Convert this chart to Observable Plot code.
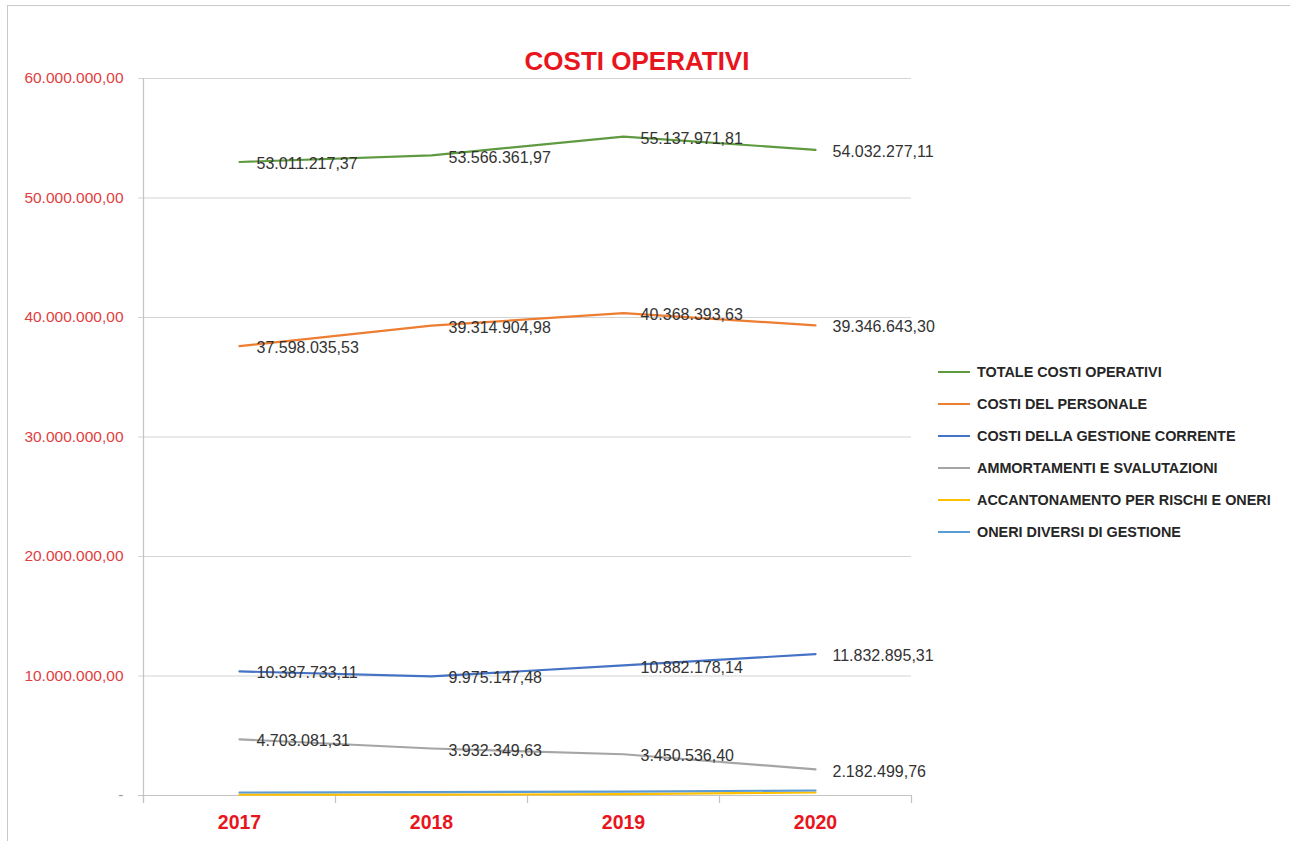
<!DOCTYPE html>
<html>
<head>
<meta charset="utf-8">
<script src="https://cdn.jsdelivr.net/npm/d3@7"></script>
<script src="https://cdn.jsdelivr.net/npm/@observablehq/plot@0.6"></script>
<style>
  html, body { margin: 0; padding: 0; background: #ffffff; }
  #wrap { position: relative; width: 1290px; height: 841px; overflow: hidden; font-family: "Liberation Sans", Arial, sans-serif; }
  #frame { position: absolute; left: 7px; top: 5px; width: 1300px; height: 850px; border: 1px solid #c9c9c9; box-sizing: border-box; }
  #title { position: absolute; left: 0; width: 1274px; top: 46px; text-align: center; font-size: 26px; font-weight: bold; color: #e8161c; line-height: 30px; }
  #chart { position: absolute; left: 0; top: 0; }
  #legend { position: absolute; left: 938px; top: 356px; }
  .li { position: relative; height: 32px; display: flex; align-items: center; }
  .sw { width: 32px; height: 2px; margin-right: 7px; }
  .lt { font-size: 14.4px; font-weight: bold; color: #262626; white-space: nowrap; line-height: 24px; }
</style>
</head>
<body>
<div id="wrap">
  <div id="frame"></div>
  <div id="chart"></div>
  <div id="title">COSTI OPERATIVI</div>
  <div id="legend"></div>
</div>
<script>
// ---- data ----
const years = [2017, 2018, 2019, 2020];
const seriesNames = [
  "TOTALE COSTI OPERATIVI",
  "COSTI DEL PERSONALE",
  "COSTI DELLA GESTIONE CORRENTE",
  "AMMORTAMENTI E SVALUTAZIONI",
  "ACCANTONAMENTO PER RISCHI E ONERI",
  "ONERI DIVERSI DI GESTIONE"
];
const seriesColors = ["#5e9a3f", "#ed7d31", "#4472c4", "#a5a5a5", "#ffc000", "#5b9bd5"];
const totaleCosti = [53011217.37, 53566361.97, 55137971.81, 54032277.11];
const costiPersonale = [37598035.53, 39314904.98, 40368393.63, 39346643.30];
const costiGestione = [10387733.11, 9975147.48, 10882178.14, 11832895.31];
const ammortamenti = [4703081.31, 3932349.63, 3450536.40, 2182499.76];
const accantonamento = [70000, 65000, 110000, 250000];
const oneriDiversi = [250000, 280000, 330000, 420000];
const labelledSeries = [0, 1, 2, 3];
const yTicks = [0, 10000000, 20000000, 30000000, 40000000, 50000000, 60000000];
const xDomain = [2016.5, 2020.5];
const xBounds = [2016.5, 2017.5, 2018.5, 2019.5, 2020.5];

const allValues = [totaleCosti, costiPersonale, costiGestione, ammortamenti, accantonamento, oneriDiversi];
const rows = [];
allValues.forEach((vals, si) => {
  vals.forEach((v, i) => rows.push({series: seriesNames[si], si, year: years[i], value: v}));
});
const labelRows = rows.filter(r => labelledSeries.includes(r.si));

const it = d3.formatLocale({decimal: ",", thousands: ".", grouping: [3], currency: ["€", ""]});
const fmt = it.format(",.2f");
const yFmt = d => d === 0 ? "-" : fmt(d);

const chart = Plot.plot({
  width: 1290,
  height: 841,
  marginLeft: 143,
  marginRight: 379,
  marginTop: 78,
  marginBottom: 46,
  style: {background: "transparent", fontFamily: "'Liberation Sans', Arial, sans-serif", overflow: "visible"},
  x: {type: "linear", domain: xDomain, axis: null},
  y: {type: "linear", domain: [0, 60000000], axis: null},
  color: {domain: seriesNames, range: seriesColors},
  marks: [
    Plot.ruleY(yTicks, {y: d => d, x1: xDomain[0], x2: xDomain[1], insetLeft: -5, stroke: "#d4d4d4", strokeWidth: 1.2}),
    Plot.ruleX([xDomain[0]], {x: d => d, y1: 60000000, y2: 0, insetTop: 0, insetBottom: -6, stroke: "#c4c4c4", strokeWidth: 1.2}),
    Plot.ruleY([0], {y: d => d, x1: xDomain[0], x2: xDomain[1], insetLeft: -5, stroke: "#c4c4c4", strokeWidth: 1.2}),
    Plot.ruleX(xBounds, {x: d => d, y1: 0, y2: 0, insetBottom: -8, stroke: "#c4c4c4", strokeWidth: 1.2}),
    Plot.text(yTicks, {x: () => xDomain[0], y: d => d, text: yFmt, textAnchor: "end", dx: -20, fill: d => d === 0 ? "#999999" : "#e0403f", fontSize: 15.5}),
    Plot.text(years, {x: d => d, y: () => 0, dy: 27, text: d => String(d), fill: "#e8161c", fontWeight: "bold", fontSize: 19.5}),
    Plot.line(rows, {x: "year", y: "value", z: "series", stroke: "series", strokeWidth: 2.2}),
    Plot.text(labelRows, {x: "year", y: "value", text: d => fmt(d.value), textAnchor: "start", dx: 17, dy: 2, fill: "#333333", fontSize: 16})
  ]
});
document.getElementById("chart").appendChild(chart);

const legend = document.getElementById("legend");
seriesNames.forEach((n, i) => {
  const li = document.createElement("div");
  li.className = "li";
  li.innerHTML = `<div class="sw" style="background:${seriesColors[i]}"></div><div class="lt">${n}</div>`;
  legend.appendChild(li);
});
</script>
</body>
</html>
